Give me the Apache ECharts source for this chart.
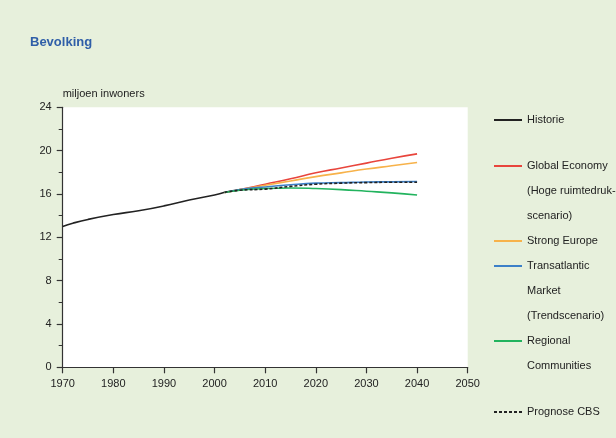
<!DOCTYPE html>
<html>
<head>
<meta charset="utf-8">
<script src="https://cdn.jsdelivr.net/npm/echarts@6/dist/echarts.min.js"></script>
<style>
html,body{margin:0;padding:0;background:#e7f0dc;}
#chart{width:616px;height:438px;}
</style>
</head>
<body>
<div id="chart"></div>
<script>
// ---- data ----
const titleText = 'Bevolking';
const yAxisName = 'miljoen inwoners';
const historyYears = [1970, 1972, 1975, 1980, 1985, 1990, 1995, 2000, 2002];
const historyValues = [13.0, 13.3, 13.65, 14.1, 14.45, 14.9, 15.45, 15.9, 16.15];
const scenarioYears = [2002, 2005, 2010, 2015, 2020, 2025, 2030, 2035, 2040];
const globalEconomy = [16.15, 16.4, 16.9, 17.4, 17.95, 18.4, 18.85, 19.3, 19.7];
const strongEurope = [16.15, 16.4, 16.8, 17.2, 17.6, 17.95, 18.3, 18.6, 18.9];
const transatlantic = [16.15, 16.4, 16.65, 16.85, 17.0, 17.05, 17.1, 17.12, 17.15];
const regional = [16.15, 16.35, 16.5, 16.55, 16.5, 16.4, 16.25, 16.1, 15.9];
const cbsYears = [2002, 2005, 2010, 2015, 2020, 2025, 2030, 2035, 2040];
const cbsValues = [16.15, 16.35, 16.45, 16.7, 16.9, 17.0, 17.05, 17.08, 17.08];
const seriesNames = ['Historie', 'Global Economy', 'Strong Europe', 'Transatlantic Market', 'Regional Communities', 'Prognose CBS'];
const legendLines = {
  'Historie': ['Historie'],
  'Global Economy': ['Global Economy', '(Hoge ruimtedruk-', 'scenario)'],
  'Strong Europe': ['Strong Europe'],
  'Transatlantic Market': ['Transatlantic', 'Market', '(Trendscenario)'],
  'Regional Communities': ['Regional', 'Communities'],
  'Prognose CBS': ['Prognose CBS']
};
const xTicks = [1970, 1980, 1990, 2000, 2010, 2020, 2030, 2040, 2050];
const yTicks = [0, 4, 8, 12, 16, 20, 24];

// ---- helpers ----
const pair = (xs, ys) => xs.map((x, i) => [x, ys[i]]);
const FONT = "'Liberation Sans Narrow', 'Liberation Sans', Arial, sans-serif";
const colors = {
  'Historie': '#222222',
  'Global Economy': '#e8453c',
  'Strong Europe': '#f7b24a',
  'Transatlantic Market': '#3c80c8',
  'Regional Communities': '#22b35e',
  'Prognose CBS': '#222222'
};
const legendCenters = {
  'Historie': 120, 'Global Economy': 166, 'Strong Europe': 241,
  'Transatlantic Market': 266, 'Regional Communities': 341, 'Prognose CBS': 412
};
const LEGEND_TEXT_X = 527;
const LINE_STEP = 25;

const chart = echarts.init(document.getElementById('chart'), null, {renderer: 'canvas'});

function mkSeries(name, data, dashed) {
  return {
    name: name, type: 'line', data: data, symbol: 'none', smooth: true,
    lineStyle: {color: colors[name], width: 1.6, type: dashed ? [3, 2] : 'solid'},
    itemStyle: {color: colors[name]},
    emphasis: {disabled: true}, z: 3
  };
}

const legends = seriesNames.map(name => ({
  data: [name], orient: 'vertical', left: 493,
  top: legendCenters[name] - 12.5,
  padding: 0, itemWidth: 28, itemHeight: 14,
  selectedMode: false,
  itemStyle: {color: 'transparent', borderColor: 'transparent', borderWidth: 0},
  formatter: nm => legendLines[nm][0],
  textStyle: {fontFamily: FONT, fontSize: 11, color: '#222', lineHeight: 25}
}));

const extraTexts = [];
seriesNames.forEach(name => {
  legendLines[name].slice(1).forEach((line, k) => {
    extraTexts.push({
      type: 'text', left: LEGEND_TEXT_X, top: legendCenters[name] + (k + 1) * LINE_STEP - 6,
      style: {text: line, fontFamily: FONT, fontSize: 11, fill: '#222'}
    });
  });
});

chart.setOption({
  backgroundColor: '#e7f0dc',
  animation: false,
  title: {
    text: titleText, left: 25, top: 31,
    textStyle: {fontFamily: "'Liberation Sans', Arial, sans-serif", fontSize: 13, fontWeight: 'bold', color: '#2f5ea8'}
  },
  legend: legends,
  graphic: extraTexts,
  grid: {left: 62.7, right: 148.3, top: 107.3, bottom: 70.7, show: true, backgroundColor: '#ffffff', borderWidth: 0},
  xAxis: {
    type: 'value', min: xTicks[0], max: xTicks[xTicks.length - 1], interval: 10,
    axisLine: {show: true, lineStyle: {color: '#333', width: 1.2}},
    axisTick: {show: true, length: 6, lineStyle: {color: '#333', width: 1.2}},
    axisLabel: {fontFamily: FONT, fontSize: 11, color: '#222', margin: 11, formatter: v => String(v)},
    splitLine: {show: false}
  },
  yAxis: {
    type: 'value', min: yTicks[0], max: yTicks[yTicks.length - 1], interval: 4,
    name: yAxisName, nameLocation: 'end', nameGap: 8,
    nameTextStyle: {fontFamily: FONT, fontSize: 11, color: '#222', align: 'left'},
    axisLine: {show: true, lineStyle: {color: '#333', width: 1.2}},
    axisTick: {show: true, length: 6, lineStyle: {color: '#333', width: 1.2}},
    minorTick: {show: true, splitNumber: 2, length: 4, lineStyle: {color: '#333', width: 1}},
    axisLabel: {fontFamily: FONT, fontSize: 11, color: '#222', margin: 11},
    splitLine: {show: false}
  },
  series: [
    mkSeries('Historie', pair(historyYears, historyValues)),
    mkSeries('Global Economy', pair(scenarioYears, globalEconomy)),
    mkSeries('Strong Europe', pair(scenarioYears, strongEurope)),
    mkSeries('Transatlantic Market', pair(scenarioYears, transatlantic)),
    mkSeries('Regional Communities', pair(scenarioYears, regional)),
    mkSeries('Prognose CBS', pair(cbsYears, cbsValues), true)
  ]
});
</script>
</body>
</html>
